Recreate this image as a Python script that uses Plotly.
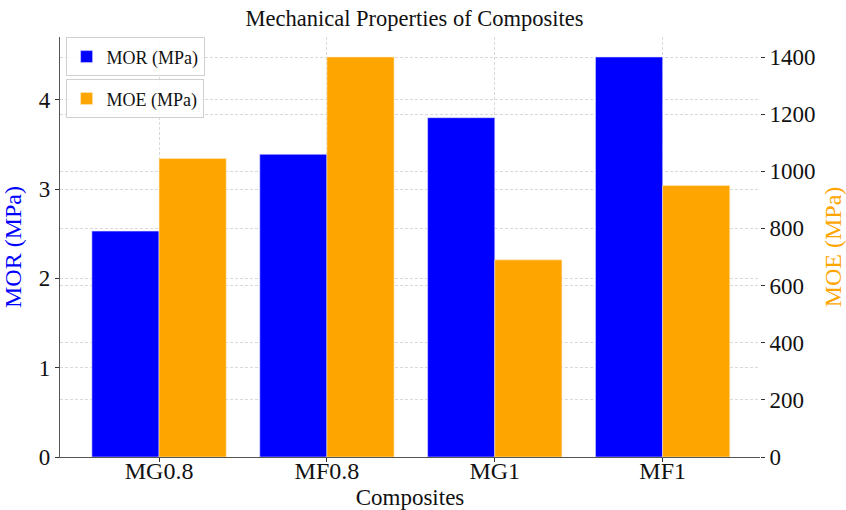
import plotly.graph_objects as go

categories = ["MG0.8", "MF0.8", "MG1", "MF1"]
mor_values = [2.53, 3.39, 3.80, 4.48]
moe_values = [1045, 1400, 690, 950]

FONT = "Liberation Serif"
TXT = "#111111"
grid = dict(showgrid=True, gridcolor="#d9d9d9", griddash="3px,2px", gridwidth=0.8)

fig = go.Figure()
fig.add_trace(go.Bar(
    x=categories, y=mor_values, name="MOR (MPa)",
    marker=dict(color="#0000ff", line=dict(color="rgba(220,220,255,0.7)", width=0.8)),
    offsetgroup=0, yaxis="y", legend="legend",
))
fig.add_trace(go.Bar(
    x=categories, y=moe_values, name="MOE (MPa)",
    marker=dict(color="#ffa500", line=dict(color="rgba(255,235,200,0.7)", width=0.8)),
    offsetgroup=1, yaxis="y2", legend="legend2",
))

def ax(size, line=True):
    return dict(showline=line, linecolor="#555555", linewidth=1.3, ticks="outside",
                ticklen=4, tickcolor="#333333", tickwidth=1, zeroline=False, automargin=False,
                tickfont=dict(family=FONT, size=size, color=TXT))

fig.update_layout(
    width=846, height=510,
    margin=dict(l=60, r=86, t=37, b=53),
    plot_bgcolor="white", paper_bgcolor="white",
    barmode="group", bargap=0.2, bargroupgap=0,
    font=dict(family=FONT, color=TXT),
    title=dict(text="Mechanical Properties of Composites", x=0.49, xanchor="center", y=0.98, yanchor="top",
               font=dict(family=FONT, size=22.5, color=TXT)),
    xaxis=dict(type="category", range=[-0.59, 3.58], **grid, **ax(24), ticklabelstandoff=-12,
               title=dict(text="Composites", font=dict(family=FONT, size=23, color=TXT))),
    yaxis=dict(range=[0, 4.704], dtick=1, **grid, **ax(23),
               title=dict(text="MOR (MPa)", font=dict(family=FONT, size=24, color="#0000ff"))),
    yaxis2=dict(range=[0, 1470], dtick=200, overlaying="y", side="right", **grid, **ax(23, line=False),
                title=dict(text="MOE (MPa)", font=dict(family=FONT, size=24, color="#ffa500"))),
    legend=dict(x=0.008, y=0.999, xanchor="left", yanchor="top", bgcolor="rgba(255,255,255,0.85)",
                bordercolor="#d0d0d0", borderwidth=1, font=dict(family=FONT, size=18, color=TXT),
                itemwidth=30, tracegroupgap=0),
    legend2=dict(x=0.008, y=0.899, xanchor="left", yanchor="top", bgcolor="rgba(255,255,255,0.85)",
                 bordercolor="#d0d0d0", borderwidth=1, font=dict(family=FONT, size=18, color=TXT),
                 itemwidth=30, tracegroupgap=0),
    showlegend=True,
)

fig.write_html("out.html", config={"displayModeBar": False},
               post_script="document.body.style.margin='0';")
